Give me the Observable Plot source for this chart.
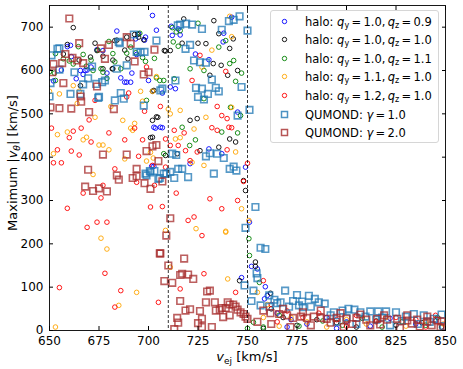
<!DOCTYPE html>
<html><head><meta charset="utf-8">
<script src="https://cdn.jsdelivr.net/npm/d3@7"></script>
<script src="https://cdn.jsdelivr.net/npm/@observablehq/plot@0.6"></script>
<style>
body{margin:0;background:#fff;font-family:"DejaVu Sans",sans-serif;}
#wrap{position:relative;width:463px;height:369px;overflow:hidden}
#legend{position:absolute;left:270px;top:10px;width:169px;height:133px;border:1px solid #d6d6d6;border-radius:3px;background:rgba(255,255,255,0.85);font-size:11.5px;box-sizing:border-box;color:#000}
.row{position:absolute;left:0;height:18px;line-height:18px;white-space:nowrap}
.row svg{position:absolute;left:9px;top:4px}
.row span{position:absolute;left:34px;top:0}
.row i{font-style:italic}
.row sub{font-size:70%;vertical-align:-0.25em;line-height:0}
</style></head>
<body><div id="wrap"><div id="chart"></div><div id="legend"></div></div>
<script>
// ---- data ----
const xTicks = [650, 675, 700, 725, 750, 775, 800, 825, 850];
const yTicks = [0, 100, 200, 300, 400, 500, 600, 700];
const vLines = [710, 750];

const haloQz09 = [[652,576],[656,601],[659,655],[661,632],[663.5,581],[667,591],[669,601],[671,608],[674,648],[677,646],[679,594],[684,691],[686,583],[689,573],[691.6,594],[694,637],[695,685],[698,670],[700,577],[701.6,379],[703.5,467],[704,693],[698.5,677],[702.7,379],[706,469],[707,548],[660.6,658],[665.6,600],[668,600],[693.5,673],[702,727],[688,573],[691,573],[702.7,469],[707,468],
[712,681],[715,696],[716,682],[711.5,702],[723.7,638],[730.5,625],[738,686],[737.7,666],[742,723],[711,562],[713.6,558],[745,504],[730.5,419],[737,408],[749,377],[721,385],[751,250],
[752,148],[747,122],[755,142],[759,101],[760,81],[758.6,73],[765,40],[772,25],[780,15],[790,30],[800,20],[812,10],[822,28],[835,15],[845,22],[770,8],[795,5]];

const haloQz10 = [[662,699],[659,660],[665,624],[665.6,565],[673,663],[674,646],[677,633],[682,624],[682,604],[684,670],[693,683],[695,677],[697.6,671],[701,445],[702,485],[704,493],[702,552],[689.6,627],[688,647],[702,446],[657,638],[670.7,631],[677,604],[681.7,604],[683,669],[689,677],[694.6,683],[708.6,645],[702.7,554],[704.7,492],
[717.8,719],[733,715],[735.5,685],[742.8,673],[741,651],[725,663],[729,662],[717,663],[711,646],[708,646],[745,600],[740,589],[731,589],[736.7,612],[732.7,616],[721,485],[724.6,489],[708.6,404],[714.5,408],[726,415],[735.5,423],[741,442],[744,435],[748,346],[749,323],
[754,158],[746,115],[754,148],[761.6,86],[762,50],[768,30],[775,12],[785,25],[795,18],[805,8],[815,22],[825,12],[838,18],[848,8],[758,5]];

const haloQz11 = [[650,597],[652.5,594],[653,639],[657,627],[660,622],[662,615],[664.6,655],[667,637],[668.6,610],[671,624],[672,600],[674.5,647],[676,604],[677,596],[679,582],[680,667],[682,639],[683,620],[686,604],[689,640],[691,654],[693.6,641],[697,630],[698.5,621],[695.6,686],[699,531],[703,628],[704,583],[653,577],[705.7,577],[707.7,577],
[712,699],[714,689],[716,692],[725,709],[712.5,666],[715,656],[735.5,654],[739,669],[721,604],[728,600],[743,623],[741,616],[747,594],[744,575],[713,581],[728,535],[746.5,496],[741.4,515],[717,469],[723.7,440],[737,458],[745,456],[707.7,408],[720.8,427],
[750.7,212],[751,173],[756,111],[753,19],[758,8],[750,5],[766,35],[776,10],[788,22],[798,12],[808,28],[818,8],[828,20],[840,12],[846,30]];

const haloQy11 = [[652,408],[654,452],[655,546],[653,8],[659,458],[662,565],[664,524],[665,552],[667,440],[668.7,446],[672,360],[673,492],[675,428],[677,428],[676,213],[679,188],[680,417],[681,517],[685,58],[687,485],[688,396],[691,467],[692,462],[693,478],[694,88],[696,552],[697,529],[699,391],[701,411],[702,552],[704,586],[650,552],[702.4,398],[708.6,231],
[741,725],[732,647],[727,608],[742,678],[716,508],[711,500],[710,511],[729,492],[742,515],[723,465],[713.6,442],[716,445],[722,388],[744,412],[747,281],[739,227],[724,235],[750.7,254],[728,381],[711,146],[740,119],[739,229],
[755,88],[760,60],[766,10],[772,30],[780,20],[790,8],[800,25],[810,15],[820,30],[830,10],[840,22],[849,15],[758,30]];

const haloQy12 = [[651,467],[652,387],[654,417],[656,387],[655,99],[659,282],[660,445],[661,414],[662,460],[665,405],[666,467],[667,317],[669,238],[670,486],[671,435],[673,531],[674,250],[676,306],[677,335],[678,132],[679,250],[680,456],[683,373],[683,54],[686,92],[688,440],[689,539],[690,548],[693,467],[694,342],[695,402],[697,440],[698,506],[699,608],[701,285],[703,335],[705,65],[706,517],[702,381],[707,286],
[726,635],[722,577],[739,598],[734.7,517],[737,496],[739.7,489],[713,462],[718,456],[732,468],[734.7,462],[740.6,469],[742,468],[715,427],[718.7,415],[708.6,442],[708.6,377],[724.6,412],[721,392],[739.7,417],[748,344],[750,386],[714,317],[731,304],[745,300],[737,281],[723,262],[720,254],[727,219],[711,427],[716,96],[728,131],[744,88],
[758,115],[762,60],[770,45],[778,30],[786,40],[795,25],[805,35],[815,20],[825,30],[835,25],[845,35],[765,20],[800,10],[840,8]];

const qumondG1 = [[650.5,571],[650,540],[651,635],[655,651],[655,602],[660.6,546],[662.6,596],[665.6,546],[667,568],[669.5,582],[671.5,609],[673.6,569],[674.6,537],[676.6,573],[678,577],[684,604],[685.5,663],[686,548],[683,531],[687.5,535],[689,612],[692.6,683],[694,643],[698,643],[697.6,519],[698.5,362],[701,365],[703,368],[704,669],[705.7,352],[706,554],[699,358],[700.7,368],[705,350],[707.7,362],[707,558],[654,650],[675,539],[685,666],[696,642],
[713.6,577],[714.8,704],[716,706],[719,708],[722,706],[727,696],[718.7,650],[721,659],[723,623],[726,619],[729,618],[737,694],[740.6,714],[743,717],[746,725],[750,692],[732,579],[724,560],[727,558],[734,560],[735.5,552],[747,562],[730,546],[728,533],[725,539],[751,509],[745,496],[712,408],[715,373],[717,373],[720,354],[713,352],[711,366],[709,362],[729,402],[731,409],[738,398],[733,362],[741,373],[743,378],[744.4,369],[734.7,408],[714,405],
[754,285],[749,237],[756.6,191],[759,188],[748.5,104],[753,92],[754.6,132],[755,121],[752,68],[756.6,58],[761,81],[763.6,71],[765,63],[769,92],[775,82],[773,68],[777.6,67],[781,80],[784,73],[786,65],[789,62],[782,55],[778,54],[776,58],[771,55],[766.7,65],[761,55],[798,46],[801,50],[804,48],[807,42],[812,44],[816,44],[820,44],[825,42],[834,38],[839,35],[848,37],[793.6,42],[792,35],[809.6,32],[830,32],[844,27],[795,20],[805,15],[815,25],[822,12],[828,22],[836,15],[842,20],[849,10],[800,30],[818,30]];

const qumondG2 = [[660,720],[651.4,596],[652,615],[656.4,617],[658,638],[661.6,629],[664,623],[665,663],[667,617],[666,528],[657,571],[650.5,515],[655,513],[661,512],[670,504],[665.7,540],[674,563],[677,406],[669.5,371],[668,332],[672,322],[675,328],[679,321],[684,358],[685,348],[689,406],[682.5,511],[676,651],[680,659],[678,627],[689,677],[691,662],[693,621],[697.6,591],[700,596],[703,648],[694,373],[692,352],[694,356],[698,340],[701,327],[699,414],[702,425],[704,428],[705,391],[705.7,178],[707,344],[709,219],[706,178],[710,150],[708,114],[711,259],
[712,110],[716,68],[714.5,29],[715,18],[713,3],[716,128],[718,166],[717,131],[720,129],[722.6,119],[721,49],[718.7,46],[726,45],[725,17],[727,8],[732,8],[729,65],[729.6,90],[731,92],[733.5,65],[734,46],[736,48],[737,52],[739,52],[740,65],[741,60],[742.8,60],[744,55],[745,48],[746.5,42],[748,38],[749,32],[750,27],[737.7,31],[741,35],[727,27],
[758,46],[761.6,40],[766,38],[770,35],[773,29],[777,32],[780,29],[783.5,32],[787,29],[790,27],[795,29],[800,27],[805,29],[810,25],[815.5,27],[820.5,25],[825.6,27],[830.7,23],[835.7,25],[840.8,21],[845.8,23],[848,21],[771.7,8],[782,12],[798.6,8],[812,12],[827,6],[837,9],[847.5,8],[768,50],[778,42],[787,46],[797,40],[807,37],[819,35],[830.7,35],[840.8,32],[755,20],[762,15],[792,18],[803,15],[817,14],[833,16],[843,12]];

// ---- series styling ----
const eq = "&thinsp;=&thinsp;";
const series = [
  {data: haloQz09, color: "blue",    symbol: "circle", label: `halo: <i>q</i><sub>y</sub>${eq}1.0,&thinsp;<i>q</i><sub>z</sub>${eq}0.9`},
  {data: haloQz10, color: "black",   symbol: "circle", label: `halo: <i>q</i><sub>y</sub>${eq}1.0,&thinsp;<i>q</i><sub>z</sub>${eq}1.0`},
  {data: haloQz11, color: "green",   symbol: "circle", label: `halo: <i>q</i><sub>y</sub>${eq}1.0,&thinsp;<i>q</i><sub>z</sub>${eq}1.1`},
  {data: haloQy11, color: "orange",  symbol: "circle", label: `halo: <i>q</i><sub>y</sub>${eq}1.1,&thinsp;<i>q</i><sub>z</sub>${eq}1.0`},
  {data: haloQy12, color: "red",     symbol: "circle", label: `halo: <i>q</i><sub>y</sub>${eq}1.2,&thinsp;<i>q</i><sub>z</sub>${eq}1.0`},
  {data: qumondG1, color: "#1f77b4", symbol: "square", label: `QUMOND: <i>γ</i>${eq}1.0`},
  {data: qumondG2, color: "#a52a2a", symbol: "square", label: `QUMOND: <i>γ</i>${eq}2.0`}
];

const marks = [];
for (const s of series) {
  const sq = s.symbol === "square";
  marks.push(Plot.dot(s.data, {
    x: d => d[0], y: d => d[1], symbol: s.symbol,
    r: sq ? 3.7 : 2.3, stroke: s.color, fill: "none",
    strokeWidth: sq ? 1.6 : 0.9, strokeOpacity: sq ? 0.75 : 1, clip: true
  }));
}
marks.push(Plot.ruleX(vLines, {stroke: "black", strokeWidth: 0.8, strokeDasharray: "3,2"}));
marks.push(Plot.frame({stroke: "black", strokeWidth: 0.9}));
marks.push(Plot.axisX({ticks: xTicks, tickSize: 0, tickPadding: 6, label: null, fontSize: 12}));
marks.push(Plot.axisX({ticks: xTicks, tickSize: -4, tickFormat: () => "", label: null}));
marks.push(Plot.axisX({anchor: "top", ticks: xTicks, tickSize: -4, tickFormat: () => "", label: null}));
marks.push(Plot.axisY({ticks: yTicks, tickSize: 0, tickPadding: 6, label: null, fontSize: 12}));
marks.push(Plot.axisY({ticks: yTicks, tickSize: -4, tickFormat: () => "", label: null}));
marks.push(Plot.axisY({anchor: "right", ticks: yTicks, tickSize: -4, tickFormat: () => "", label: null}));

const chart = Plot.plot({
  width: 463, height: 369,
  marginLeft: 49, marginRight: 18, marginTop: 5, marginBottom: 39,
  style: {fontFamily: "DejaVu Sans", fontSize: "12px", color: "black", background: "white"},
  x: {domain: [650, 850]},
  y: {domain: [0, 750]},
  marks
});
document.getElementById("chart").appendChild(chart);

// axis titles with math styling
const svg = d3.select(chart);
const xl = svg.append("text").attr("x", 247).attr("y", 361).attr("text-anchor", "middle")
  .attr("font-family", "DejaVu Sans").attr("font-size", 13).attr("fill", "black");
xl.append("tspan").attr("font-style", "italic").text("v");
xl.append("tspan").attr("font-size", 9).attr("dy", 3).text("ej");
xl.append("tspan").attr("dy", -3).text(" [km/s]");

const yl = svg.append("text").attr("transform", "translate(17,163) rotate(-90)").attr("text-anchor", "middle")
  .attr("font-family", "DejaVu Sans").attr("font-size", 13).attr("fill", "black");
yl.append("tspan").text("Maximum |");
yl.append("tspan").attr("font-style", "italic").text("v");
yl.append("tspan").attr("font-style", "italic").attr("font-size", 9).attr("dy", 3).text("θ");
yl.append("tspan").attr("dy", -3).text("| [km/s]");

// legend
const lg = document.getElementById("legend");
series.forEach((s, i) => {
  const row = document.createElement("div");
  row.className = "row";
  row.style.top = (1.5 + i * 18.6) + "px";
  const sq = s.symbol === "square";
  const mk = sq
    ? `<rect x="1.5" y="1.5" width="6" height="6" fill="none" stroke="${s.color}" stroke-opacity="0.8" stroke-width="1.5"/>`
    : `<circle cx="4.5" cy="4.5" r="2.2" fill="none" stroke="${s.color}" stroke-width="0.9"/>`;
  row.innerHTML = `<svg width="9" height="9">${mk}</svg><span>${s.label}</span>`;
  lg.appendChild(row);
});
</script></body></html>
